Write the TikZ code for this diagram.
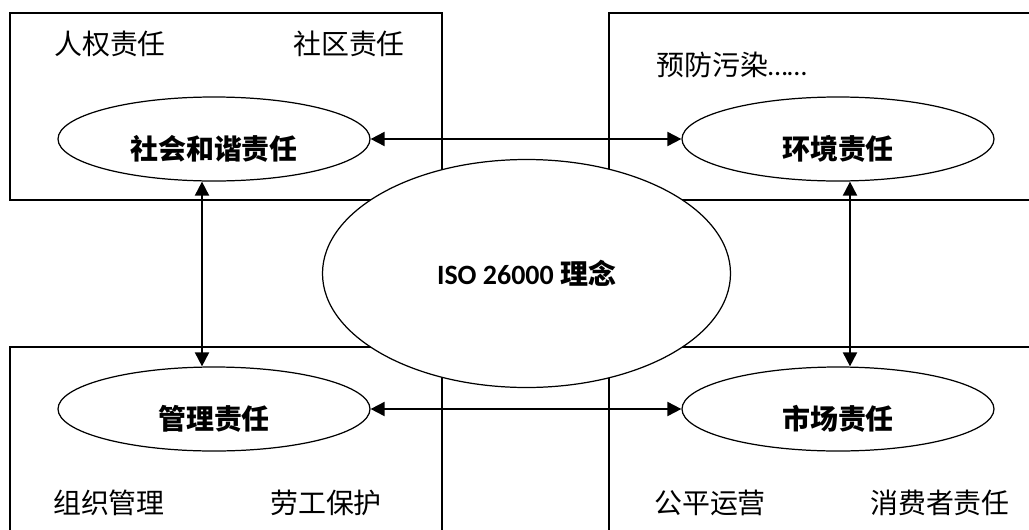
\documentclass[tikz,border=0pt]{standalone}
\usepackage{fontspec}
\setmainfont{Carlito}
\newfontfamily\cjk{Noto Sans CJK SC}
\usetikzlibrary{shapes.geometric,arrows.meta}
\newcommand\lblsize{\fontsize{15.9}{19}\selectfont}
\tikzset{
    resp/.style={ellipse, draw, line width=0.7pt, fill=white,
        minimum width=6.24cm, minimum height=1.68cm, inner sep=0pt,
        font=\cjk\bfseries\lblsize, text height=0.82cm, text depth=0cm},
    item/.style={font=\cjk\lblsize, inner sep=0pt},
    both/.style={{Triangle[length=0.28cm,width=0.28cm]}-{Triangle[length=0.28cm,width=0.28cm]},
        line width=1.1pt},
}

\begin{document}
\begin{tikzpicture}
\useasboundingbox (0,0) rectangle (20.58,10.58);
\clip (0,0) rectangle (20.58,10.58);
\fill[white] (0,0) rectangle (20.58,10.58);
\draw[line width=0.85pt] (0.2,6.58) rectangle (8.84,10.32);
\draw[line width=0.85pt] (12.18,6.58) rectangle (21,10.32);
\draw[line width=0.85pt] (0.2,-0.5) rectangle (8.84,3.64);
\draw[line width=0.85pt] (12.18,-0.5) rectangle (21,3.64);

\node[ellipse, draw, line width=0.7pt, fill=white, minimum width=8.16cm,
    minimum height=4.56cm, font=\bfseries\lblsize] (iso) at (10.53,5.11)
    {ISO 26000 {\cjk 理念}};

\node[resp] (shehui) at (4.28,7.8) {社会和谐责任};
\node[resp] (huanjing) at (16.76,7.8) {环境责任};
\node[resp] (guanli) at (4.28,2.4) {管理责任};
\node[resp] (shichang) at (16.76,2.4) {市场责任};

\node[item] (renquan) at (2.2,9.70) {人权责任};
\node[item] (shequ) at (6.98,9.70) {社区责任};
\node[item, anchor=west] (yufang) at (13.12,9.28) {预防污染{\rmfamily ……}};
\node[item] (zuzhi) at (2.18,0.52) {组织管理};
\node[item] (laogong) at (6.52,0.52) {劳工保护};
\node[item] (gongping) at (14.2,0.52) {公平运营};
\node[item] (xiaofei) at (18.8,0.52) {消费者责任};

\draw[both] (shehui.east) -- (huanjing.west);
\draw[both] (guanli.east) -- (shichang.west);
\draw[both] ([xshift=-0.24cm]shehui.south) -- ([xshift=-0.24cm]guanli.north);
\draw[both] ([xshift=0.24cm]huanjing.south) -- ([xshift=0.24cm]shichang.north);
\end{tikzpicture}
\end{document}
